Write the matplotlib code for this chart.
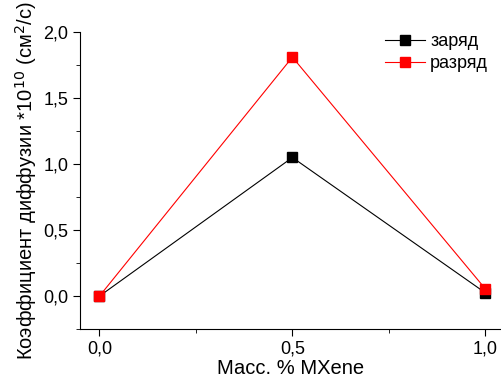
import matplotlib
matplotlib.use('Agg')
import matplotlib.pyplot as plt
from matplotlib.ticker import MultipleLocator

plt.rcParams['font.family'] = ['Liberation Sans', 'DejaVu Sans']

mxene = [0.0, 0.5, 1.0]
zaryad = [0.0, 1.05, 0.025]
razryad = [0.0, 1.81, 0.055]

fig = plt.figure(figsize=(5.01, 3.77), dpi=100)
ax = fig.add_axes([0.160, 0.127, 0.838, 0.788])

ax.plot(mxene, zaryad, '-s', color='black', lw=0.8, ms=7, label='заряд')
ax.plot(mxene, razryad, '-s', color='red', lw=0.8, ms=7, label='разряд')

ax.set_xlim(-0.05, 1.038)
ax.set_ylim(-0.25, 2.0)
ax.xaxis.set_major_locator(MultipleLocator(0.5))
ax.xaxis.set_minor_locator(MultipleLocator(0.25))
ax.yaxis.set_major_locator(MultipleLocator(0.5))
ax.yaxis.set_minor_locator(MultipleLocator(0.25))
fmt = lambda v, p: ('%.1f' % v).replace('.', ',')
ax.xaxis.set_major_formatter(plt.FuncFormatter(fmt))
ax.yaxis.set_major_formatter(plt.FuncFormatter(fmt))
ax.tick_params(which='major', direction='out', length=5, labelsize=13)
ax.tick_params(which='minor', direction='out', length=3)
for s in ['top', 'right']:
    ax.spines[s].set_visible(False)

ax.set_xlabel('Масс. % MXene', fontsize=14.5, labelpad=1)
ax.set_ylabel('Коэффициент диффузии *10$^{10}$ (см$^2$/с)', fontsize=14.5, labelpad=3)
ax.legend(loc='upper right', frameon=False, fontsize=13, handlelength=2.2,
          handletextpad=0.3, labelspacing=0.25, bbox_to_anchor=(1.01, 1.05))

fig.savefig('out.png', dpi=100)
